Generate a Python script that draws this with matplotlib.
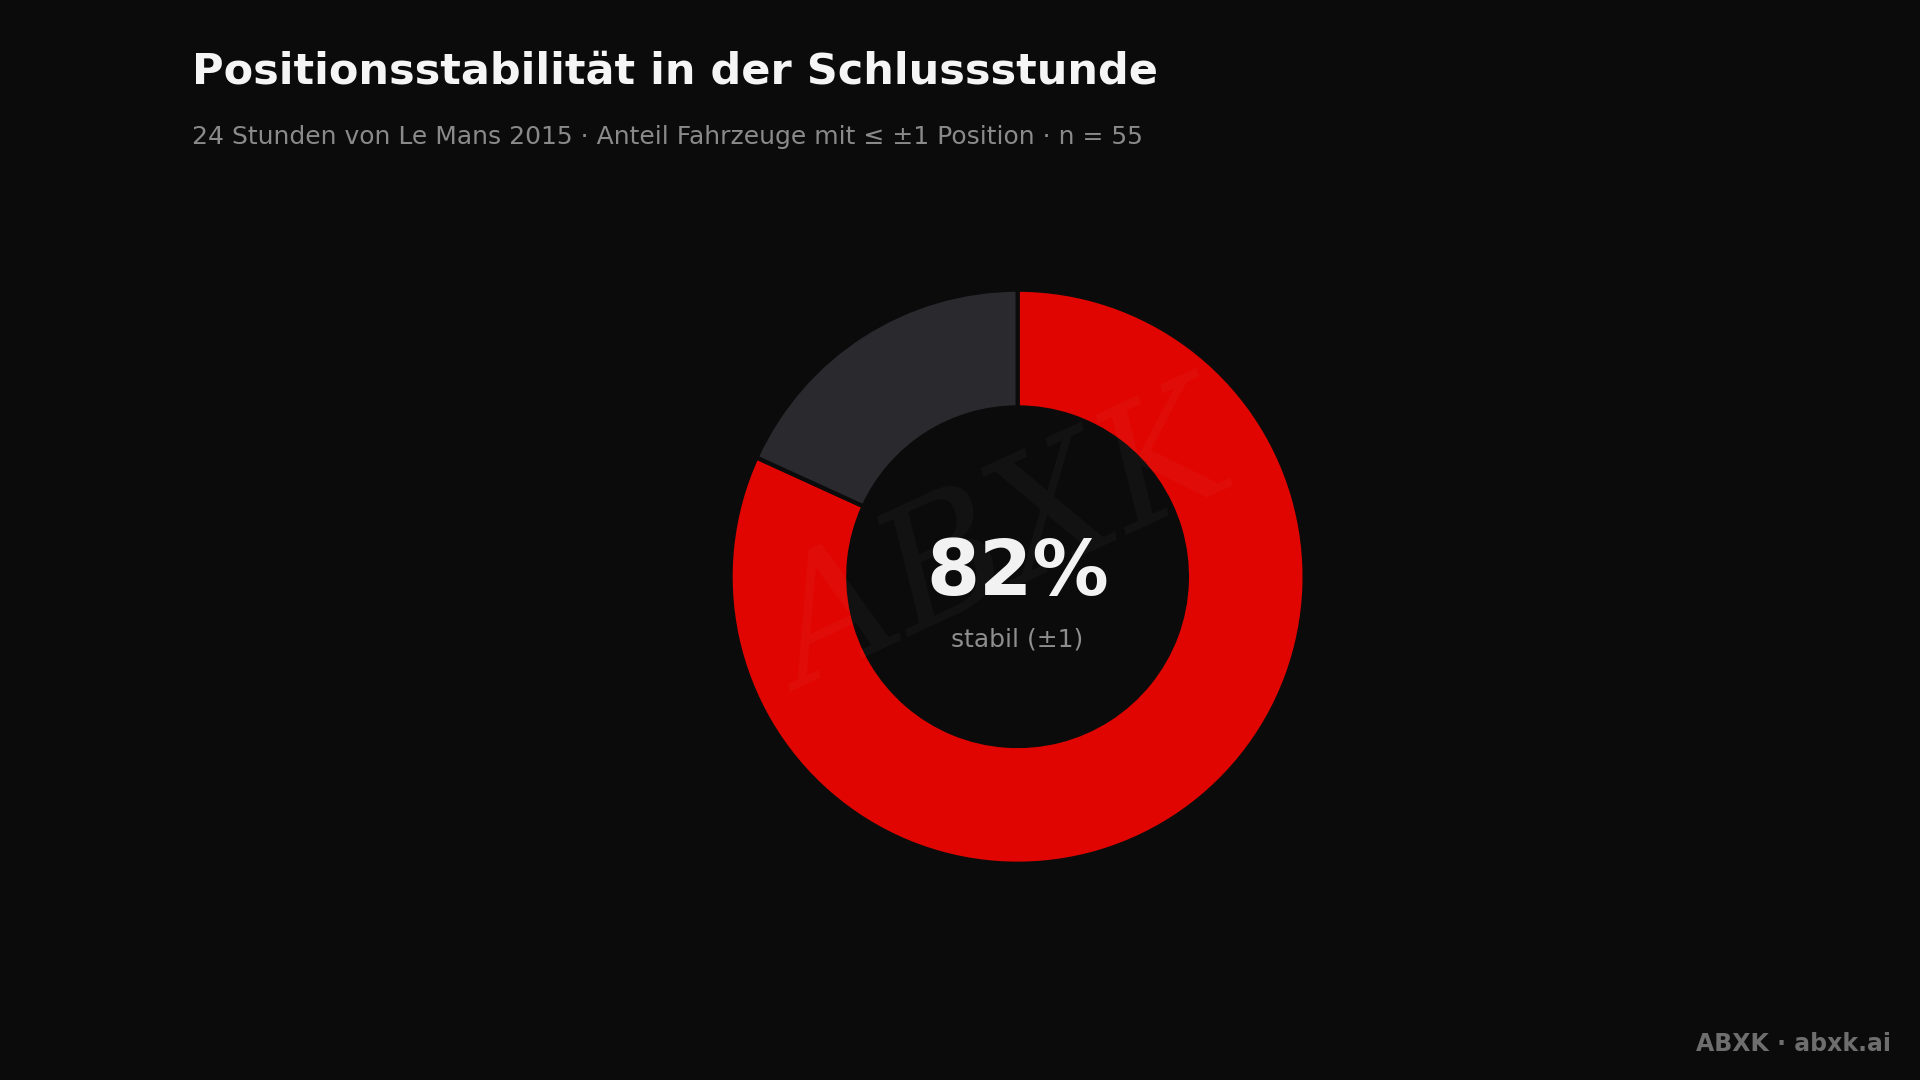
import matplotlib.pyplot as plt

labels = ["stabil (±1)", "instabil"]
counts = [45, 10]
colors = ["#e00500", "#2a292e"]
bg = "#0b0b0b"

W, H = 19.2, 10.8
fig = plt.figure(figsize=(W, H), dpi=100)
fig.patch.set_facecolor(bg)

# donut axes, square, centred on the chart
r_px = 287
half = r_px * 1.05
cx, cy = 0.53 * 1920, (1 - 0.534) * 1080
ax = fig.add_axes([(cx - half) / 1920, (cy - half) / 1080, 2 * half / 1920, 2 * half / 1080])
ax.set_facecolor(bg)
ax.pie(counts, colors=colors, startangle=90, counterclock=False,
       wedgeprops=dict(width=0.41, edgecolor=bg, linewidth=3))
ax.set_xlim(-1.05, 1.05)
ax.set_ylim(-1.05, 1.05)
ax.set_aspect("equal")
ax.axis("off")

# faint watermark
ax.text(-0.05, 0.1, "ABXK", fontsize=120, color="white", alpha=0.035, ha="center",
        va="center", rotation=25, fontstyle="italic", family="DejaVu Serif")

pct = round(100 * counts[0] / sum(counts))
ax.text(0, 0.01, f"{pct}%", fontsize=55, fontweight="bold", color="#f2f2f2",
        ha="center", va="center")
ax.text(0, -0.22, labels[0], fontsize=18, color="#8e8e8e", ha="center", va="center")

fig.text(0.1, 0.934, "Positionsstabilität in der Schlussstunde", fontsize=31,
         fontweight="bold", color="#f5f5f5", va="center")
fig.text(0.1, 0.873, "24 Stunden von Le Mans 2015 · Anteil Fahrzeuge mit ≤ ±1 Position · n = 55",
         fontsize=18, color="#8a8a8a", va="center")
fig.text(0.985, 0.033, "ABXK · abxk.ai", fontsize=17, fontweight="bold",
         color="#6e6e6e", ha="right", va="center")

fig.savefig("out.png", dpi=100, facecolor=bg)
